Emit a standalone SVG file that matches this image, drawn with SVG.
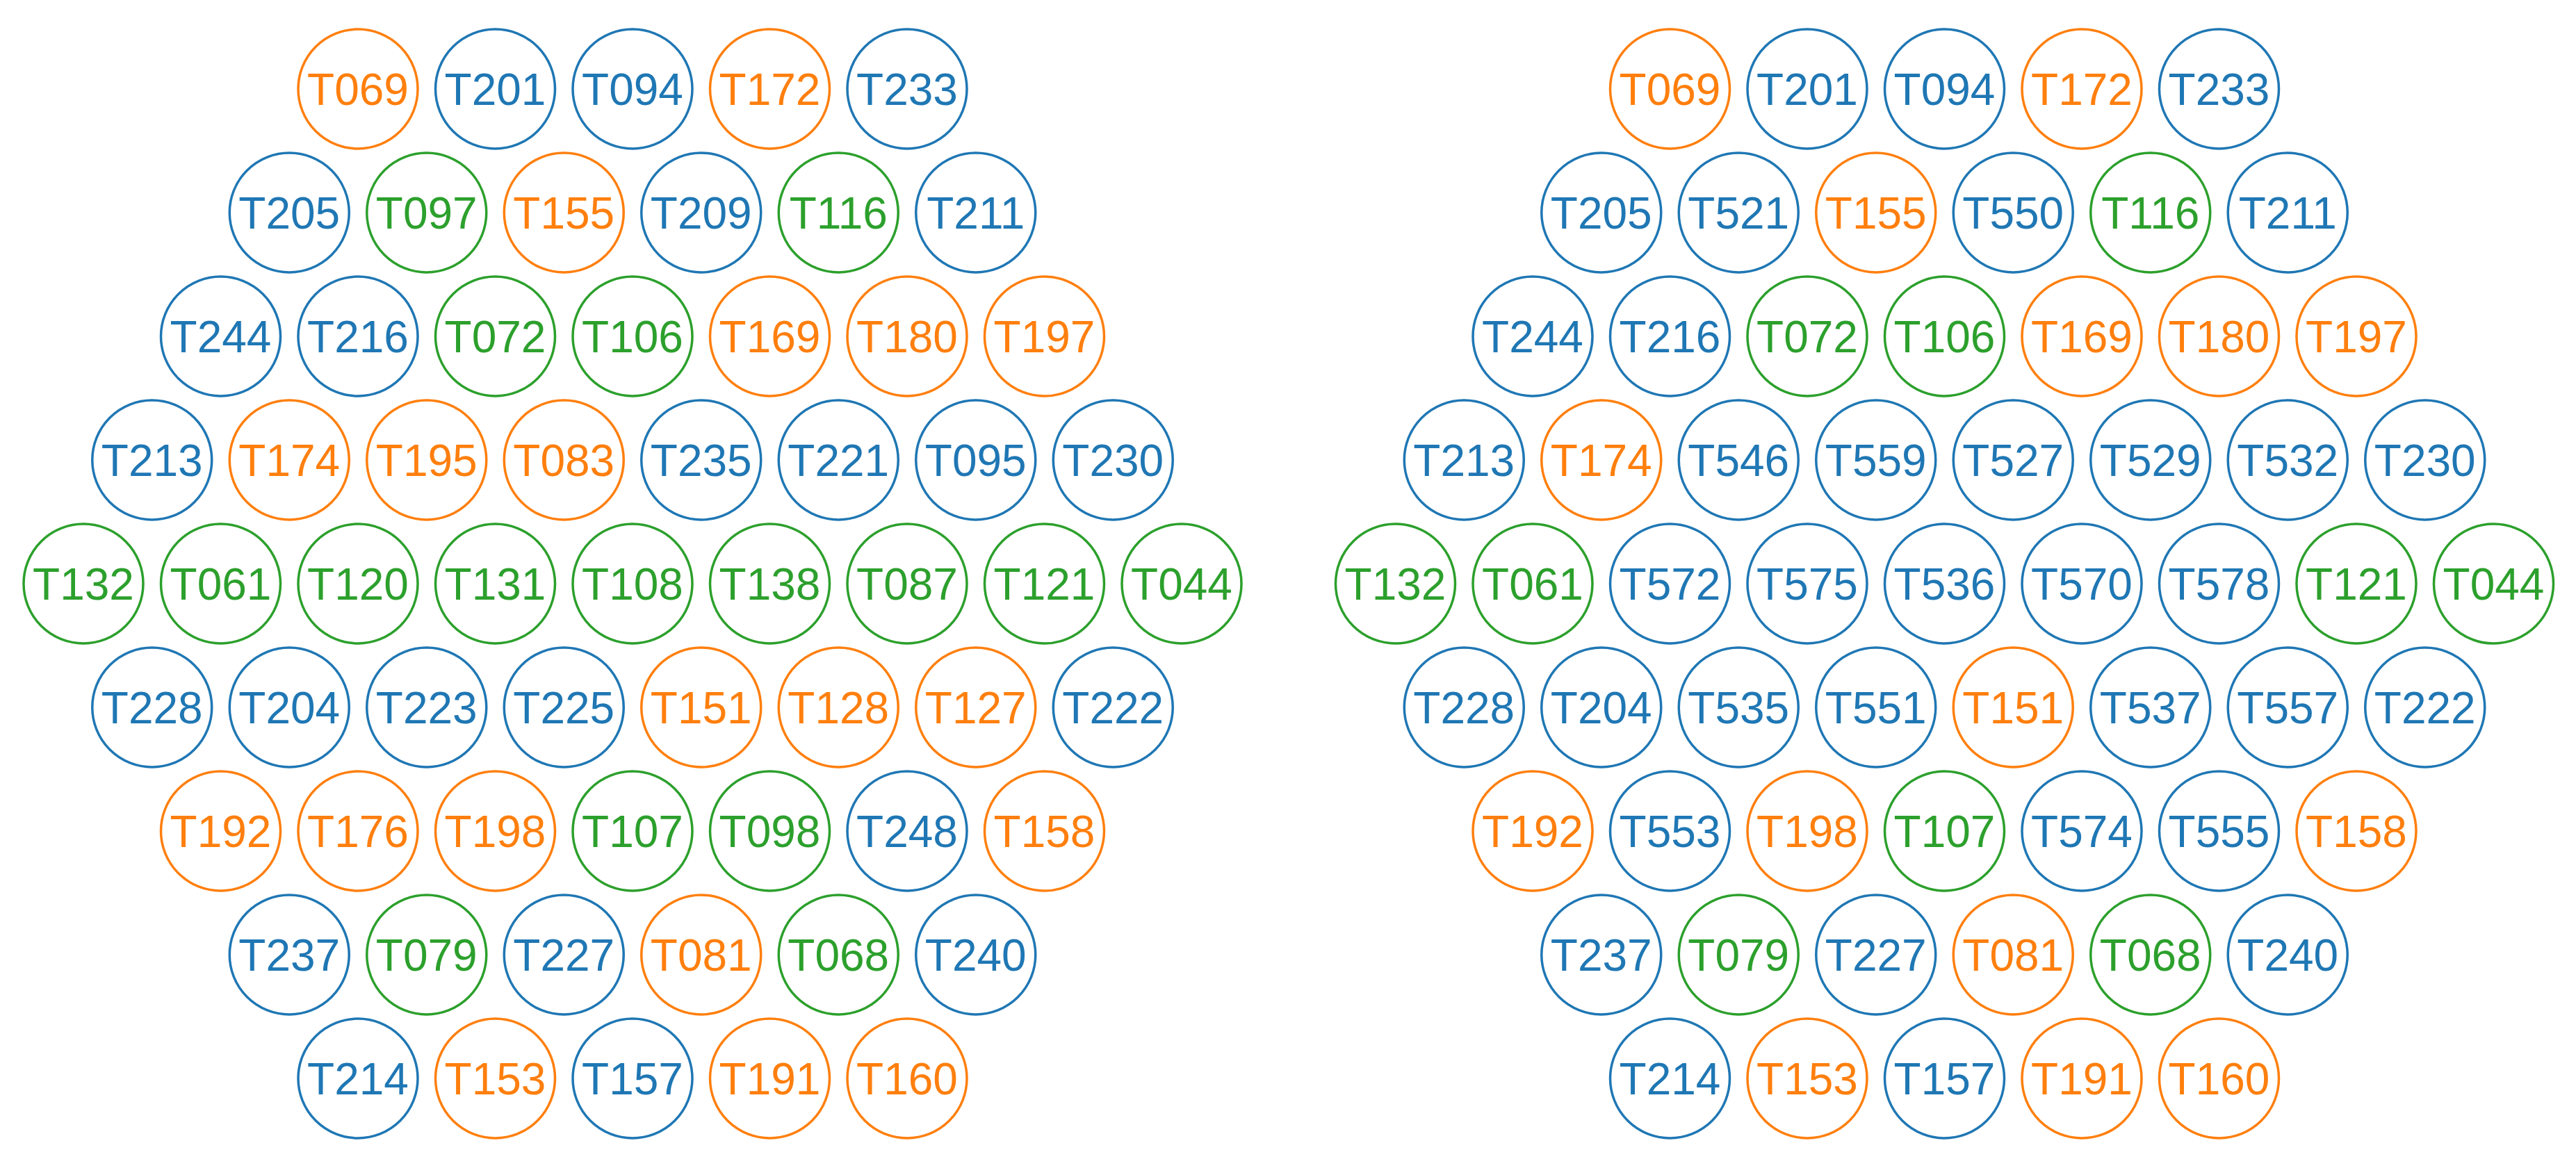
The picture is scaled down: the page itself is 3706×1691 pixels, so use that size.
<svg xmlns="http://www.w3.org/2000/svg" width="3706" height="1691" viewBox="0 0 3706 1691">
<style>
circle{fill:#fff;stroke-width:3.5}
text{font-family:"Liberation Sans",Arial,sans-serif;font-size:64px;text-anchor:middle}
.b circle{stroke:#1f77b4}.b text{fill:#1f77b4}
.o circle{stroke:#ff7f0e}.o text{fill:#ff7f0e}
.g circle{stroke:#2ca02c}.g text{fill:#2ca02c}
</style>
<defs><circle id="c" r="86"/></defs>
<rect width="3706" height="1691" fill="#fff"/>
<g id="left">
<g id="L-T069" class="o" transform="translate(515,128)"><circle r="86"/><text y="23">T069</text></g>
<g id="L-T201" class="b" transform="translate(712.5,128)"><circle r="86"/><text y="23">T201</text></g>
<g id="L-T094" class="b" transform="translate(910,128)"><circle r="86"/><text y="23">T094</text></g>
<g id="L-T172" class="o" transform="translate(1107.5,128)"><circle r="86"/><text y="23">T172</text></g>
<g id="L-T233" class="b" transform="translate(1305,128)"><circle r="86"/><text y="23">T233</text></g>

<g id="L-T205" class="b" transform="translate(416.25,306)"><circle r="86"/><text y="23">T205</text></g>
<g id="L-T097" class="g" transform="translate(613.75,306)"><circle r="86"/><text y="23">T097</text></g>
<g id="L-T155" class="o" transform="translate(811.25,306)"><circle r="86"/><text y="23">T155</text></g>
<g id="L-T209" class="b" transform="translate(1008.75,306)"><circle r="86"/><text y="23">T209</text></g>
<g id="L-T116" class="g" transform="translate(1206.25,306)"><circle r="86"/><text y="23">T116</text></g>
<g id="L-T211" class="b" transform="translate(1403.75,306)"><circle r="86"/><text y="23">T211</text></g>

<g id="L-T244" class="b" transform="translate(317.5,484)"><circle r="86"/><text y="23">T244</text></g>
<g id="L-T216" class="b" transform="translate(515,484)"><circle r="86"/><text y="23">T216</text></g>
<g id="L-T072" class="g" transform="translate(712.5,484)"><circle r="86"/><text y="23">T072</text></g>
<g id="L-T106" class="g" transform="translate(910,484)"><circle r="86"/><text y="23">T106</text></g>
<g id="L-T169" class="o" transform="translate(1107.5,484)"><circle r="86"/><text y="23">T169</text></g>
<g id="L-T180" class="o" transform="translate(1305,484)"><circle r="86"/><text y="23">T180</text></g>
<g id="L-T197" class="o" transform="translate(1502.5,484)"><circle r="86"/><text y="23">T197</text></g>

<g id="L-T213" class="b" transform="translate(218.75,662)"><circle r="86"/><text y="23">T213</text></g>
<g id="L-T174" class="o" transform="translate(416.25,662)"><circle r="86"/><text y="23">T174</text></g>
<g id="L-T195" class="o" transform="translate(613.75,662)"><circle r="86"/><text y="23">T195</text></g>
<g id="L-T083" class="o" transform="translate(811.25,662)"><circle r="86"/><text y="23">T083</text></g>
<g id="L-T235" class="b" transform="translate(1008.75,662)"><circle r="86"/><text y="23">T235</text></g>
<g id="L-T221" class="b" transform="translate(1206.25,662)"><circle r="86"/><text y="23">T221</text></g>
<g id="L-T095" class="b" transform="translate(1403.75,662)"><circle r="86"/><text y="23">T095</text></g>
<g id="L-T230" class="b" transform="translate(1601.25,662)"><circle r="86"/><text y="23">T230</text></g>

<g id="L-T132" class="g" transform="translate(120,840)"><circle r="86"/><text y="23">T132</text></g>
<g id="L-T061" class="g" transform="translate(317.5,840)"><circle r="86"/><text y="23">T061</text></g>
<g id="L-T120" class="g" transform="translate(515,840)"><circle r="86"/><text y="23">T120</text></g>
<g id="L-T131" class="g" transform="translate(712.5,840)"><circle r="86"/><text y="23">T131</text></g>
<g id="L-T108" class="g" transform="translate(910,840)"><circle r="86"/><text y="23">T108</text></g>
<g id="L-T138" class="g" transform="translate(1107.5,840)"><circle r="86"/><text y="23">T138</text></g>
<g id="L-T087" class="g" transform="translate(1305,840)"><circle r="86"/><text y="23">T087</text></g>
<g id="L-T121" class="g" transform="translate(1502.5,840)"><circle r="86"/><text y="23">T121</text></g>
<g id="L-T044" class="g" transform="translate(1700,840)"><circle r="86"/><text y="23">T044</text></g>

<g id="L-T228" class="b" transform="translate(218.75,1018)"><circle r="86"/><text y="23">T228</text></g>
<g id="L-T204" class="b" transform="translate(416.25,1018)"><circle r="86"/><text y="23">T204</text></g>
<g id="L-T223" class="b" transform="translate(613.75,1018)"><circle r="86"/><text y="23">T223</text></g>
<g id="L-T225" class="b" transform="translate(811.25,1018)"><circle r="86"/><text y="23">T225</text></g>
<g id="L-T151" class="o" transform="translate(1008.75,1018)"><circle r="86"/><text y="23">T151</text></g>
<g id="L-T128" class="o" transform="translate(1206.25,1018)"><circle r="86"/><text y="23">T128</text></g>
<g id="L-T127" class="o" transform="translate(1403.75,1018)"><circle r="86"/><text y="23">T127</text></g>
<g id="L-T222" class="b" transform="translate(1601.25,1018)"><circle r="86"/><text y="23">T222</text></g>

<g id="L-T192" class="o" transform="translate(317.5,1196)"><circle r="86"/><text y="23">T192</text></g>
<g id="L-T176" class="o" transform="translate(515,1196)"><circle r="86"/><text y="23">T176</text></g>
<g id="L-T198" class="o" transform="translate(712.5,1196)"><circle r="86"/><text y="23">T198</text></g>
<g id="L-T107" class="g" transform="translate(910,1196)"><circle r="86"/><text y="23">T107</text></g>
<g id="L-T098" class="g" transform="translate(1107.5,1196)"><circle r="86"/><text y="23">T098</text></g>
<g id="L-T248" class="b" transform="translate(1305,1196)"><circle r="86"/><text y="23">T248</text></g>
<g id="L-T158" class="o" transform="translate(1502.5,1196)"><circle r="86"/><text y="23">T158</text></g>

<g id="L-T237" class="b" transform="translate(416.25,1374)"><circle r="86"/><text y="23">T237</text></g>
<g id="L-T079" class="g" transform="translate(613.75,1374)"><circle r="86"/><text y="23">T079</text></g>
<g id="L-T227" class="b" transform="translate(811.25,1374)"><circle r="86"/><text y="23">T227</text></g>
<g id="L-T081" class="o" transform="translate(1008.75,1374)"><circle r="86"/><text y="23">T081</text></g>
<g id="L-T068" class="g" transform="translate(1206.25,1374)"><circle r="86"/><text y="23">T068</text></g>
<g id="L-T240" class="b" transform="translate(1403.75,1374)"><circle r="86"/><text y="23">T240</text></g>

<g id="L-T214" class="b" transform="translate(515,1552)"><circle r="86"/><text y="23">T214</text></g>
<g id="L-T153" class="o" transform="translate(712.5,1552)"><circle r="86"/><text y="23">T153</text></g>
<g id="L-T157" class="b" transform="translate(910,1552)"><circle r="86"/><text y="23">T157</text></g>
<g id="L-T191" class="o" transform="translate(1107.5,1552)"><circle r="86"/><text y="23">T191</text></g>
<g id="L-T160" class="o" transform="translate(1305,1552)"><circle r="86"/><text y="23">T160</text></g>
</g>

<g id="right">
<g id="R-T069" class="o" transform="translate(2402.5,128)"><circle r="86"/><text y="23">T069</text></g>
<g id="R-T201" class="b" transform="translate(2600,128)"><circle r="86"/><text y="23">T201</text></g>
<g id="R-T094" class="b" transform="translate(2797.5,128)"><circle r="86"/><text y="23">T094</text></g>
<g id="R-T172" class="o" transform="translate(2995,128)"><circle r="86"/><text y="23">T172</text></g>
<g id="R-T233" class="b" transform="translate(3192.5,128)"><circle r="86"/><text y="23">T233</text></g>

<g id="R-T205" class="b" transform="translate(2303.75,306)"><circle r="86"/><text y="23">T205</text></g>
<g id="R-T521" class="b" transform="translate(2501.25,306)"><circle r="86"/><text y="23">T521</text></g>
<g id="R-T155" class="o" transform="translate(2698.75,306)"><circle r="86"/><text y="23">T155</text></g>
<g id="R-T550" class="b" transform="translate(2896.25,306)"><circle r="86"/><text y="23">T550</text></g>
<g id="R-T116" class="g" transform="translate(3093.75,306)"><circle r="86"/><text y="23">T116</text></g>
<g id="R-T211" class="b" transform="translate(3291.25,306)"><circle r="86"/><text y="23">T211</text></g>

<g id="R-T244" class="b" transform="translate(2205,484)"><circle r="86"/><text y="23">T244</text></g>
<g id="R-T216" class="b" transform="translate(2402.5,484)"><circle r="86"/><text y="23">T216</text></g>
<g id="R-T072" class="g" transform="translate(2600,484)"><circle r="86"/><text y="23">T072</text></g>
<g id="R-T106" class="g" transform="translate(2797.5,484)"><circle r="86"/><text y="23">T106</text></g>
<g id="R-T169" class="o" transform="translate(2995,484)"><circle r="86"/><text y="23">T169</text></g>
<g id="R-T180" class="o" transform="translate(3192.5,484)"><circle r="86"/><text y="23">T180</text></g>
<g id="R-T197" class="o" transform="translate(3390,484)"><circle r="86"/><text y="23">T197</text></g>

<g id="R-T213" class="b" transform="translate(2106.25,662)"><circle r="86"/><text y="23">T213</text></g>
<g id="R-T174" class="o" transform="translate(2303.75,662)"><circle r="86"/><text y="23">T174</text></g>
<g id="R-T546" class="b" transform="translate(2501.25,662)"><circle r="86"/><text y="23">T546</text></g>
<g id="R-T559" class="b" transform="translate(2698.75,662)"><circle r="86"/><text y="23">T559</text></g>
<g id="R-T527" class="b" transform="translate(2896.25,662)"><circle r="86"/><text y="23">T527</text></g>
<g id="R-T529" class="b" transform="translate(3093.75,662)"><circle r="86"/><text y="23">T529</text></g>
<g id="R-T532" class="b" transform="translate(3291.25,662)"><circle r="86"/><text y="23">T532</text></g>
<g id="R-T230" class="b" transform="translate(3488.75,662)"><circle r="86"/><text y="23">T230</text></g>

<g id="R-T132" class="g" transform="translate(2007.5,840)"><circle r="86"/><text y="23">T132</text></g>
<g id="R-T061" class="g" transform="translate(2205,840)"><circle r="86"/><text y="23">T061</text></g>
<g id="R-T572" class="b" transform="translate(2402.5,840)"><circle r="86"/><text y="23">T572</text></g>
<g id="R-T575" class="b" transform="translate(2600,840)"><circle r="86"/><text y="23">T575</text></g>
<g id="R-T536" class="b" transform="translate(2797.5,840)"><circle r="86"/><text y="23">T536</text></g>
<g id="R-T570" class="b" transform="translate(2995,840)"><circle r="86"/><text y="23">T570</text></g>
<g id="R-T578" class="b" transform="translate(3192.5,840)"><circle r="86"/><text y="23">T578</text></g>
<g id="R-T121" class="g" transform="translate(3390,840)"><circle r="86"/><text y="23">T121</text></g>
<g id="R-T044" class="g" transform="translate(3587.5,840)"><circle r="86"/><text y="23">T044</text></g>

<g id="R-T228" class="b" transform="translate(2106.25,1018)"><circle r="86"/><text y="23">T228</text></g>
<g id="R-T204" class="b" transform="translate(2303.75,1018)"><circle r="86"/><text y="23">T204</text></g>
<g id="R-T535" class="b" transform="translate(2501.25,1018)"><circle r="86"/><text y="23">T535</text></g>
<g id="R-T551" class="b" transform="translate(2698.75,1018)"><circle r="86"/><text y="23">T551</text></g>
<g id="R-T151" class="o" transform="translate(2896.25,1018)"><circle r="86"/><text y="23">T151</text></g>
<g id="R-T537" class="b" transform="translate(3093.75,1018)"><circle r="86"/><text y="23">T537</text></g>
<g id="R-T557" class="b" transform="translate(3291.25,1018)"><circle r="86"/><text y="23">T557</text></g>
<g id="R-T222" class="b" transform="translate(3488.75,1018)"><circle r="86"/><text y="23">T222</text></g>

<g id="R-T192" class="o" transform="translate(2205,1196)"><circle r="86"/><text y="23">T192</text></g>
<g id="R-T553" class="b" transform="translate(2402.5,1196)"><circle r="86"/><text y="23">T553</text></g>
<g id="R-T198" class="o" transform="translate(2600,1196)"><circle r="86"/><text y="23">T198</text></g>
<g id="R-T107" class="g" transform="translate(2797.5,1196)"><circle r="86"/><text y="23">T107</text></g>
<g id="R-T574" class="b" transform="translate(2995,1196)"><circle r="86"/><text y="23">T574</text></g>
<g id="R-T555" class="b" transform="translate(3192.5,1196)"><circle r="86"/><text y="23">T555</text></g>
<g id="R-T158" class="o" transform="translate(3390,1196)"><circle r="86"/><text y="23">T158</text></g>

<g id="R-T237" class="b" transform="translate(2303.75,1374)"><circle r="86"/><text y="23">T237</text></g>
<g id="R-T079" class="g" transform="translate(2501.25,1374)"><circle r="86"/><text y="23">T079</text></g>
<g id="R-T227" class="b" transform="translate(2698.75,1374)"><circle r="86"/><text y="23">T227</text></g>
<g id="R-T081" class="o" transform="translate(2896.25,1374)"><circle r="86"/><text y="23">T081</text></g>
<g id="R-T068" class="g" transform="translate(3093.75,1374)"><circle r="86"/><text y="23">T068</text></g>
<g id="R-T240" class="b" transform="translate(3291.25,1374)"><circle r="86"/><text y="23">T240</text></g>

<g id="R-T214" class="b" transform="translate(2402.5,1552)"><circle r="86"/><text y="23">T214</text></g>
<g id="R-T153" class="o" transform="translate(2600,1552)"><circle r="86"/><text y="23">T153</text></g>
<g id="R-T157" class="b" transform="translate(2797.5,1552)"><circle r="86"/><text y="23">T157</text></g>
<g id="R-T191" class="o" transform="translate(2995,1552)"><circle r="86"/><text y="23">T191</text></g>
<g id="R-T160" class="o" transform="translate(3192.5,1552)"><circle r="86"/><text y="23">T160</text></g>
</g>
</svg>
